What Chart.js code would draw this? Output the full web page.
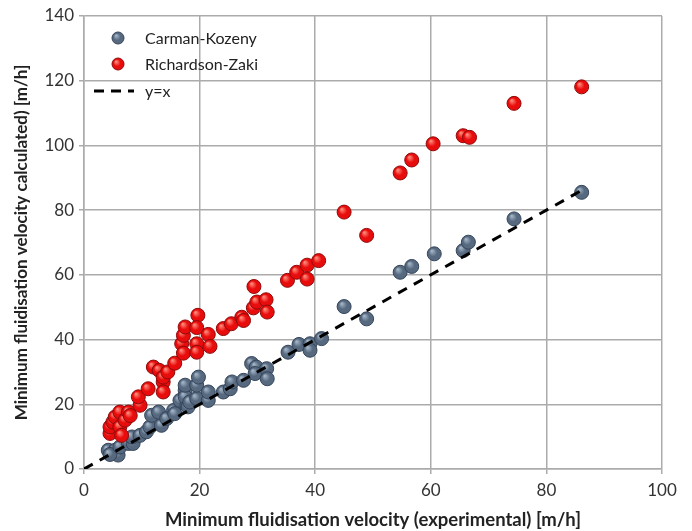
<!DOCTYPE html>
<html>
<head>
<meta charset="utf-8">
<script src="https://cdn.jsdelivr.net/npm/chart.js@4/dist/chart.umd.min.js"></script>
<style>
  html, body { margin: 0; padding: 0; background: #fff; }
  #wrap { width: 692px; height: 531px; }
</style>
</head>
<body>
<div id="wrap"><canvas id="fluidChart"></canvas></div>
<script>
// Carman-Kozeny: [experimental, calculated]
const carmanKozeny = [
  [4.2, 5.8], [5.4, 5.8], [5.9, 4.3], [4.5, 4.5], [6.2, 6.8], [7.7, 7.9], [8.5, 7.9],
  [8.3, 9.9], [9.7, 10.4], [10.8, 11.5], [11.4, 13.0], [13.4, 13.5], [11.7, 16.6],
  [12.9, 17.6], [14.3, 15.6], [15.5, 18.1], [15.7, 17.1], [16.6, 21.2], [17.8, 19.7],
  [17.5, 24.3], [17.5, 22.3], [17.5, 25.9], [18.0, 19.2], [18.3, 20.7], [19.5, 21.8],
  [19.5, 25.9], [19.8, 28.4], [21.5, 21.2], [21.5, 23.8], [24.1, 23.8], [25.3, 24.8],
  [25.6, 26.9], [27.6, 27.4], [29.0, 32.6], [29.8, 31.5], [29.6, 29.5], [31.6, 31.0],
  [31.7, 27.9], [35.3, 36.1], [37.2, 38.5], [39.1, 38.7], [39.1, 36.7], [41.1, 40.3],
  [45.0, 50.2], [48.9, 46.4], [54.7, 60.8], [56.7, 62.6], [60.6, 66.5], [65.6, 67.5],
  [66.5, 70.1], [74.4, 77.3], [86.1, 85.5]
];

// Richardson-Zaki: [experimental, calculated]
const richardsonZaki = [
  [4.5, 11.0], [4.5, 13.0], [5.0, 14.5], [5.4, 16.1], [6.2, 13.0], [6.5, 10.4],
  [6.2, 17.6], [7.1, 15.1], [7.7, 17.6], [8.0, 16.5], [9.7, 19.7], [9.4, 22.3],
  [11.1, 24.8], [12.0, 31.5], [13.0, 30.5], [13.7, 26.9], [13.7, 23.8], [13.7, 28.4],
  [14.5, 30.0], [15.7, 32.7], [16.9, 38.7], [17.2, 35.8], [17.2, 41.3], [17.5, 43.9],
  [19.7, 47.5], [19.5, 43.7], [19.5, 38.7], [19.5, 36.1], [21.5, 41.6], [21.8, 37.9],
  [24.1, 43.4], [25.5, 44.9], [27.3, 46.9], [27.6, 45.9], [29.3, 49.8], [29.4, 56.4],
  [29.9, 51.6], [31.5, 52.3], [31.7, 48.5], [35.2, 58.3], [36.8, 60.8], [38.6, 63.0],
  [38.6, 58.7], [40.6, 64.4], [45.0, 79.4], [48.9, 72.2], [54.7, 91.5], [56.7, 95.5],
  [60.4, 100.5], [65.6, 103.0], [66.7, 102.5], [74.4, 113.0], [86.1, 118.1]
];

// y = x reference line ends
const parityLine = [[0, 0], [86, 86]];

const xTicks = [0, 20, 40, 60, 80, 100];
const yTicks = [0, 20, 40, 60, 80, 100, 120, 140];

const toPts = arr => arr.map(p => ({ x: p[0], y: p[1] }));
const FONT = "Lato, 'Open Sans', sans-serif";

// marker colours: [highlight, body, outline]
const blueTone = ['#a3b4c6', '#56697f', '#34445a'];
const redTone = ['#ff8a7a', '#e80c0c', '#8e0a0a'];

// shaded ball look, gradient centred on each point
function ballFill(tone) {
  return function(c) {
    const chart = c.chart;
    if (!c.parsed || !chart.scales.x) return tone[1];
    const px = chart.scales.x.getPixelForValue(c.parsed.x);
    const py = chart.scales.y.getPixelForValue(c.parsed.y);
    if (!isFinite(px) || !isFinite(py)) return tone[1];
    const g = chart.ctx.createRadialGradient(px - 2.5, py - 3, 0.5, px, py, 7);
    g.addColorStop(0, tone[0]);
    g.addColorStop(0.55, tone[1]);
    g.addColorStop(1, tone[1]);
    return g;
  };
}

// legend drawn inside the plot, top-left (like the Excel one)
const insideLegend = {
  id: 'insideLegend',
  afterDraw(chart) {
    const { ctx, chartArea } = chart;
    const x0 = chartArea.left + 34;
    const tx = chartArea.left + 61;
    const rows = [chartArea.top + 22, chartArea.top + 48, chartArea.top + 75];
    const tones = [blueTone, redTone];
    ctx.save();
    ctx.font = '16px ' + FONT;
    ctx.textBaseline = 'middle';
    chart.data.datasets.forEach((ds, i) => {
      const y = rows[i];
      if (ds.showLine) {
        ctx.strokeStyle = '#000';
        ctx.lineWidth = 3;
        ctx.setLineDash([10, 7]);
        ctx.beginPath();
        ctx.moveTo(x0 - 24, y);
        ctx.lineTo(x0 + 16, y);
        ctx.stroke();
        ctx.setLineDash([]);
      } else {
        const t = tones[i];
        const g = ctx.createRadialGradient(x0 - 2, y - 2.5, 0.5, x0, y, 6);
        g.addColorStop(0, t[0]);
        g.addColorStop(0.55, t[1]);
        g.addColorStop(1, t[1]);
        ctx.beginPath();
        ctx.arc(x0, y, 6, 0, Math.PI * 2);
        ctx.fillStyle = g;
        ctx.fill();
        ctx.lineWidth = 1;
        ctx.strokeStyle = t[2];
        ctx.stroke();
      }
      ctx.fillStyle = '#222';
      ctx.fillText(ds.label, tx, y + 1);
    });
    ctx.restore();
  }
};

const ctx = document.getElementById('fluidChart').getContext('2d');

new Chart(ctx, {
  type: 'scatter',
  data: {
    datasets: [
      {
        label: 'Carman-Kozeny',
        data: toPts(carmanKozeny),
        backgroundColor: ballFill(blueTone),
        borderColor: blueTone[2],
        borderWidth: 1,
        pointRadius: 7,
        order: 2
      },
      {
        label: 'Richardson-Zaki',
        data: toPts(richardsonZaki),
        backgroundColor: ballFill(redTone),
        borderColor: redTone[2],
        borderWidth: 1,
        pointRadius: 7,
        order: 1
      },
      {
        label: 'y=x',
        data: toPts(parityLine),
        showLine: true,
        borderColor: '#000',
        borderWidth: 3,
        borderDash: [10, 8],
        pointRadius: 0,
        fill: false,
        order: 0
      }
    ]
  },
  options: {
    responsive: true,
    maintainAspectRatio: false,
    animation: false,
    layout: { padding: { top: 16, right: 30, bottom: 0, left: 0 } },
    plugins: {
      legend: { display: false },
      tooltip: { enabled: false }
    },
    scales: {
      x: {
        type: 'linear',
        min: 0,
        max: 100,
        afterBuildTicks: axis => { axis.ticks = xTicks.map(v => ({ value: v })); },
        afterFit: axis => { axis.height = 62; },
        grid: { color: '#ababab', lineWidth: 1.5, tickLength: 5 },
        border: { color: '#ababab', width: 1.5 },
        ticks: { color: '#333', font: { family: FONT, size: 17 }, padding: 6 },
        title: {
          display: true,
          text: 'Minimum fluidisation velocity (experimental) [m/h]',
          color: '#222',
          font: { family: FONT, size: 18.5, weight: 'bold' },
          padding: { top: 0, bottom: 0 }
        }
      },
      y: {
        type: 'linear',
        min: 0,
        max: 140,
        afterBuildTicks: axis => { axis.ticks = yTicks.map(v => ({ value: v })); },
        afterFit: axis => { axis.width = 84; },
        grid: { color: '#ababab', lineWidth: 1.5, tickLength: 5 },
        border: { color: '#ababab', width: 1.5 },
        ticks: { color: '#333', font: { family: FONT, size: 17 }, padding: 5 },
        title: {
          display: true,
          text: 'Minimum fluidisation velocity calculated) [m/h]',
          color: '#222',
          font: { family: FONT, size: 17, weight: 'bold' },
          padding: { top: 11, bottom: 0 }
        }
      }
    }
  },
  plugins: [insideLegend]
});
</script>
</body>
</html>
